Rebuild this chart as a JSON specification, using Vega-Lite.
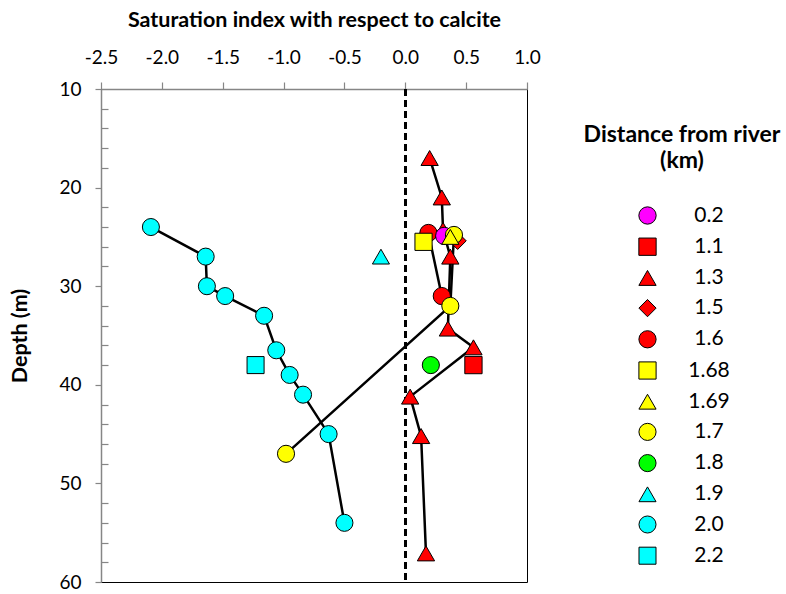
{
  "$schema": "https://vega.github.io/schema/vega-lite/v6.json",
  "width": 426,
  "height": 493,
  "autosize": {"type": "none"},
  "padding": {"left": 101, "top": 89, "right": 259, "bottom": 12},
  "background": "white",
  "config": {
    "font": "Lato",
    "view": {"stroke": "black", "strokeWidth": 1},
    "axis": {
      "domainColor": "#868686",
      "domainWidth": 1.5,
      "tickColor": "#868686",
      "tickWidth": 1.2,
      "labelColor": "black",
      "labelFont": "Lato",
      "labelFontSize": 19,
      "labelFlush": false,
      "titleFont": "Lato",
      "titleFontSize": 21.5,
      "titleFontWeight": "bold",
      "titleColor": "black",
      "grid": false,
      "zindex": 1
    }
  },
  "data": {
    "values": [
      {"dist": "1.1", "si": 0.56, "depth": 38.0},
      {"dist": "1.3", "si": 0.20, "depth": 17.0},
      {"dist": "1.3", "si": 0.30, "depth": 21.0},
      {"dist": "1.3", "si": 0.31, "depth": 24.3},
      {"dist": "1.3", "si": 0.37, "depth": 27.0},
      {"dist": "1.3", "si": 0.35, "depth": 34.3},
      {"dist": "1.3", "si": 0.56, "depth": 36.2},
      {"dist": "1.3", "si": 0.04, "depth": 41.2},
      {"dist": "1.3", "si": 0.13, "depth": 45.2},
      {"dist": "1.3", "si": 0.17, "depth": 57.1},
      {"dist": "1.5", "si": 0.43, "depth": 25.4},
      {"dist": "1.6", "si": 0.19, "depth": 24.6},
      {"dist": "1.6", "si": 0.30, "depth": 31.0},
      {"dist": "0.2", "si": 0.32, "depth": 24.9},
      {"dist": "1.7", "si": 0.40, "depth": 24.8},
      {"dist": "1.7", "si": 0.37, "depth": 32.0},
      {"dist": "1.7", "si": -0.98, "depth": 47.0},
      {"dist": "1.68", "si": 0.15, "depth": 25.5},
      {"dist": "1.69", "si": 0.37, "depth": 25.0},
      {"dist": "1.8", "si": 0.21, "depth": 38.0},
      {"dist": "1.9", "si": -0.20, "depth": 27.0},
      {"dist": "2.0", "si": -2.09, "depth": 24.0},
      {"dist": "2.0", "si": -1.64, "depth": 27.0},
      {"dist": "2.0", "si": -1.63, "depth": 30.0},
      {"dist": "2.0", "si": -1.48, "depth": 31.0},
      {"dist": "2.0", "si": -1.16, "depth": 33.0},
      {"dist": "2.0", "si": -1.06, "depth": 36.5},
      {"dist": "2.0", "si": -0.95, "depth": 39.0},
      {"dist": "2.0", "si": -0.84, "depth": 41.0},
      {"dist": "2.0", "si": -0.63, "depth": 45.0},
      {"dist": "2.0", "si": -0.50, "depth": 54.0},
      {"dist": "2.2", "si": -1.23, "depth": 38.0}
    ]
  },
  "encoding": {
    "x": {
      "field": "si",
      "type": "quantitative",
      "scale": {"domain": [-2.5, 1.0], "nice": false, "zero": false},
      "axis": {
        "orient": "top",
        "title": "Saturation index with respect to calcite",
        "values": [-2.5, -2.0, -1.5, -1.0, -0.5, 0.0, 0.5, 1.0],
        "labelExpr": "datum.value < 0 ? '-' + format(-datum.value, '.1f') : format(datum.value, '.1f')",
        "tickSize": 7,
        "labelPadding": 14.5,
        "titlePadding": 17
      }
    },
    "y": {
      "field": "depth",
      "type": "quantitative",
      "scale": {"domain": [10, 60], "nice": false, "zero": false, "reverse": true},
      "axis": {
        "title": "Depth (m)",
        "values": [10, 12, 14, 16, 18, 20, 22, 24, 26, 28, 30, 32, 34, 36, 38, 40, 42, 44, 46, 48, 50, 52, 54, 56, 58, 60],
        "labelExpr": "datum.value % 10 === 0 ? format(datum.value, 'd') : ''",
        "tickSize": {"condition": {"test": "datum.value % 10 === 0", "value": 6}, "value": -7},
        "labelPadding": 14,
        "titlePadding": 27
      }
    }
  },
  "layer": [
    {
      "mark": {"type": "rule", "color": "black", "strokeWidth": 2.5, "strokeDash": [7, 4]},
      "encoding": {"x": {"datum": 0}, "y": null}
    },
    {
      "mark": {"type": "line", "color": "black", "strokeWidth": 2.5},
      "encoding": {
        "detail": {"field": "dist", "type": "nominal"},
        "order": {"field": "depth", "type": "quantitative"}
      }
    },
    {
      "mark": {"type": "point", "filled": true, "stroke": "black", "strokeWidth": 1, "opacity": 1},
      "encoding": {
        "color": {
          "field": "dist",
          "type": "nominal",
          "scale": {
            "domain": ["0.2", "1.1", "1.3", "1.5", "1.6", "1.68", "1.69", "1.7", "1.8", "1.9", "2.0", "2.2"],
            "range": ["#FF00FF", "#FF0000", "#FF0000", "#FF0000", "#FF0000", "#FFFF00", "#FFFF00", "#FFFF00", "#00FF00", "#00FFFF", "#00FFFF", "#00FFFF"]
          },
          "legend": {
            "title": ["Distance from river", "(km)"],
            "orient": "none",
            "legendX": 483,
            "legendY": 35,
            "padding": 0,
            "titleFont": "Lato",
            "titleFontSize": 23,
            "titleFontWeight": "bold",
            "titleColor": "black",
            "titleLimit": 400,
            "titleAnchor": "middle",
            "titleAlign": "center",
            "titlePadding": 32,
            "titleLineHeight": 26,
            "labelFont": "Lato",
            "labelFontSize": 21,
            "labelColor": "black",
            "labelAlign": "center",
            "labelOffset": 51,
            "symbolOffset": 3,
            "rowPadding": 8.2,
            "symbolStrokeColor": "black",
            "symbolStrokeWidth": 1
          }
        },
        "shape": {
          "field": "dist",
          "type": "nominal",
          "scale": {
            "domain": ["0.2", "1.1", "1.3", "1.5", "1.6", "1.68", "1.69", "1.7", "1.8", "1.9", "2.0", "2.2"],
            "range": ["circle", "square", "triangle-up", "diamond", "circle", "square", "triangle-up", "circle", "circle", "triangle-up", "circle", "square"]
          }
        },
        "size": {
          "field": "dist",
          "type": "nominal",
          "scale": {
            "domain": ["0.2", "1.1", "1.3", "1.5", "1.6", "1.68", "1.69", "1.7", "1.8", "1.9", "2.0", "2.2"],
            "range": [300, 290, 380, 300, 300, 290, 380, 300, 300, 380, 300, 290]
          }
        }
      }
    }
  ]
}
